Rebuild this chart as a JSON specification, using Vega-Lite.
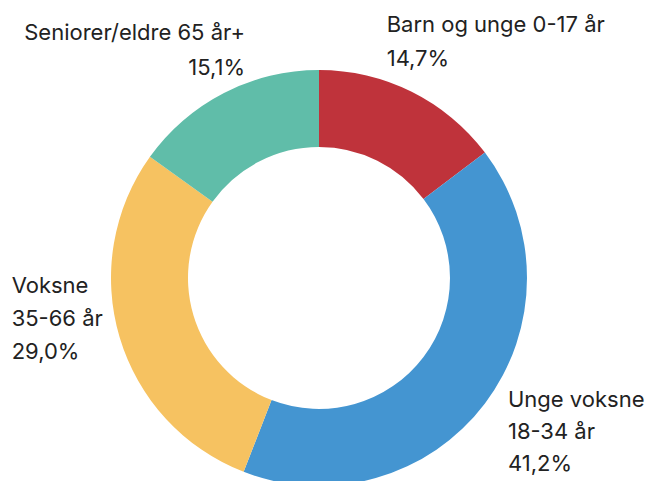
{
  "$schema": "https://vega.github.io/schema/vega-lite/v6.json",
  "width": 638,
  "height": 406,
  "autosize": {"type": "none"},
  "padding": {"left": 0, "top": 75, "right": 8, "bottom": 0},
  "background": "white",
  "config": {"view": {"stroke": null}, "text": {"font": "Inter", "fontSize": 22, "fill": "#222222"}},
  "data": {
    "values": [
      {"idx": 1, "name": "Barn og unge 0-17 år", "value": 14.7, "label": "Barn og unge 0-17 år\n14,7%"},
      {"idx": 2, "name": "Unge voksne 18-34 år", "value": 41.2, "label": "Unge voksne\n18-34 år\n41,2%"},
      {"idx": 3, "name": "Voksne 35-66 år", "value": 29.0, "label": "Voksne\n35-66 år\n29,0%"},
      {"idx": 4, "name": "Seniorer/eldre 65 år+", "value": 15.1, "label": "Seniorer/eldre 65 år+\n15,1%"}
    ]
  },
  "encoding": {
    "theta": {"field": "value", "type": "quantitative", "stack": true},
    "order": {"field": "idx", "type": "quantitative"},
    "detail": {"field": "name", "type": "nominal"}
  },
  "layer": [
    {
      "mark": {"type": "arc", "outerRadius": 208, "innerRadius": 131},
      "encoding": {
        "color": {
          "field": "name", "type": "nominal", "legend": null,
          "scale": {
            "domain": ["Barn og unge 0-17 år", "Unge voksne 18-34 år", "Voksne 35-66 år", "Seniorer/eldre 65 år+"],
            "range": ["#BF333B", "#4495D1", "#F6C261", "#60BDA9"]
          }
        }
      }
    },
    {
      "mark": {"type": "text", "radius": 208, "align": "left", "baseline": "alphabetic", "lineBreak": "\n", "lineHeight": 34, "dx": -25, "dy": -60},
      "encoding": {"text": {"condition": {"test": "datum.idx === 1", "field": "label"}, "value": ""}}
    },
    {
      "mark": {"type": "text", "radius": 208, "align": "left", "baseline": "alphabetic", "lineBreak": "\n", "lineHeight": 32, "dx": 23, "dy": 4},
      "encoding": {"text": {"condition": {"test": "datum.idx === 2", "field": "label"}, "value": ""}}
    },
    {
      "mark": {"type": "text", "radius": 208, "align": "left", "baseline": "alphabetic", "lineBreak": "\n", "lineHeight": 33, "dx": -108, "dy": -44},
      "encoding": {"text": {"condition": {"test": "datum.idx === 3", "field": "label"}, "value": ""}}
    },
    {
      "mark": {"type": "text", "radius": 208, "align": "right", "baseline": "alphabetic", "lineBreak": "\n", "lineHeight": 35, "dx": 21, "dy": -53},
      "encoding": {"text": {"condition": {"test": "datum.idx === 4", "field": "label"}, "value": ""}}
    }
  ]
}
